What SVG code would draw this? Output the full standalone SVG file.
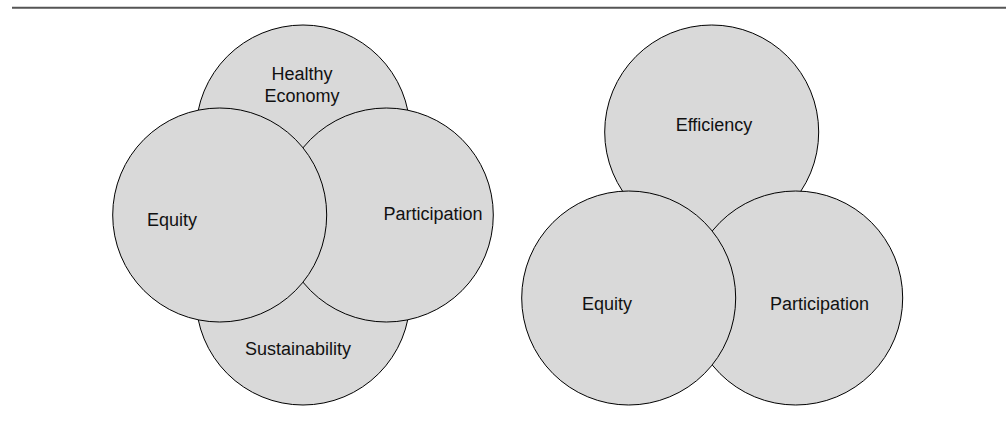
<svg xmlns="http://www.w3.org/2000/svg" width="1006" height="421" viewBox="0 0 1006 421">
<style>
.c{fill:#d9d9d9;stroke:#000;stroke-width:1}
.t{font-family:"Liberation Sans",Arial,sans-serif;font-size:18px;fill:#111;text-anchor:middle}
</style>
<rect width="1006" height="421" fill="#fff"/>
<line x1="12" y1="7.7" x2="1006" y2="7.7" stroke="#555" stroke-width="2"/>
<g id="left">
<g id="healthy-economy"><circle class="c" cx="303" cy="132" r="107"/><text class="t" x="302" y="80">Healthy</text><text class="t" x="302" y="101.5">Economy</text></g>
<g id="sustainability"><circle class="c" cx="303" cy="298" r="107"/><text class="t" x="298" y="355">Sustainability</text></g>
<g id="participation-l"><circle class="c" cx="386.3" cy="215" r="107"/><text class="t" x="433" y="220">Participation</text></g>
<g id="equity-l"><circle class="c" cx="219.7" cy="215" r="107"/><text class="t" x="172" y="226">Equity</text></g>
</g>
<g id="right">
<g id="efficiency"><circle class="c" cx="711.7" cy="132" r="107"/><text class="t" x="714" y="130.5">Efficiency</text></g>
<g id="participation-r"><circle class="c" cx="795.7" cy="298" r="107"/><text class="t" x="819.5" y="310">Participation</text></g>
<g id="equity-r"><circle class="c" cx="628.7" cy="298" r="107"/><text class="t" x="607" y="310">Equity</text></g>
</g>
<g id="connectors"/>
</svg>
